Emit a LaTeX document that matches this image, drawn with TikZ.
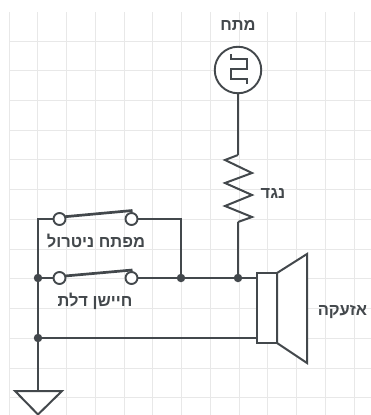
\documentclass[tikz,border=0pt]{standalone}
\usepackage{fontspec}
\TeXXeTstate=1
\newfontfamily\hebfont[Script=Hebrew]{Liberation Sans}
\definecolor{wire}{HTML}{43484C}
\definecolor{gridc}{HTML}{E8E8E8}
\tikzset{
  wireline/.style={draw=wire,line width=2pt,line join=miter},
  thinline/.style={draw=wire,line width=1.4pt},
  gridline/.style={draw=gridc,line width=0.9pt},
  terminal/.style={circle,draw=wire,line width=1.9pt,fill=white,inner sep=0pt,minimum size=12pt},
  junction/.style={circle,fill=wire,inner sep=0pt,minimum size=8.5pt},
  lever/.style={draw=wire,line width=2.7pt},
  lab/.style={text=wire,inner sep=0pt,font=\hebfont\bfseries\fontsize{16.5}{18}\selectfont}
}
\begin{document}
\begin{tikzpicture}[x=1pt,y=-1pt]
\useasboundingbox (0,0) rectangle (371,415);
\fill[white] (0,0) rectangle (371,415);
% grid
\foreach \gx in {9,37.8,66.5,95.3,124,152.8,181.5,210.2,239,267.7,296.5,325.2,354}
  \draw[gridline] (\gx,12) -- (\gx,415);
\foreach \gy in {41,70.5,100,130,159.5,189,219,249,278.5,308,338,368,397.5}
  \draw[gridline] (9,\gy) -- (371,\gy);
% nodes
\node[circle,draw=wire,line width=1.9pt,fill=white,minimum size=46.5pt,inner sep=0pt] (src) at (238,70) {};
\node[terminal] (s1a) at (59.5,219) {};
\node[terminal] (s1b) at (131.5,219) {};
\node[terminal] (s2a) at (59.5,278) {};
\node[terminal] (s2b) at (131.5,278) {};
\node[junction] (jl1) at (38,278) {};
\node[junction] (jl2) at (38,338) {};
\node[junction] (jr) at (181,278) {};
\node[junction] (jm) at (238,278) {};
\coordinate (tl) at (38,219);
\coordinate (tr) at (181,219);
\coordinate (gnd) at (38,391);
\coordinate (spkA) at (257,278);
\coordinate (spkB) at (257,338);
\coordinate (resT) at (238,155);
\coordinate (resB) at (238,222);
\coordinate (l1a) at (65,216.7);
\coordinate (l1b) at (132.5,210.5);
\coordinate (l2a) at (65,276);
\coordinate (l2b) at (132.5,270);
% wires
\draw[wireline] (s1a) -- (tl) -- (jl1) -- (jl2) -- (gnd);
\draw[wireline] (s1b) -- (tr) -- (jr);
\draw[wireline] (jl1) -- (s2a);
\draw[wireline] (s2b) -- (jr) -- (jm) -- (spkA);
\draw[wireline] (jl2) -- (spkB);
\draw[wireline] (src) -- (resT);
\draw[wireline] (resT) -- (225,160) -- (252,173) -- (225,183) -- (252,195) -- (225,206) -- (252,217) -- (resB);
\draw[wireline] (resB) -- (jm);
% switch levers
\draw[lever] (l1a) -- (l1b);
\draw[lever] (l2a) -- (l2b);
% pulse symbol
\draw[thinline] (231,54) -- (231,59) -- (247,59) -- (247,69) -- (231,69) -- (231,79) -- (247,79) -- (247,84);
% speaker
\draw[wireline,fill=white] (257,273) rectangle (277,343);
\draw[wireline,fill=white,line join=miter] (277,273) -- (307,254) -- (307,363) -- (277,343) -- cycle;
% ground
\draw[wireline,fill=white] (15,391) -- (62,391) -- (38,414.5) -- cycle;
% labels
\node[lab] (t1) at (238,25) {\beginR מתח\endR};
\node[lab] (t2) at (273,193) {\beginR נגד\endR};
\node[lab] (t3) at (342.5,312) {\beginR אזעקה\endR};
\node[lab] (t4) at (96,241) {\beginR מפתח ניטרול\endR};
\node[lab] (t5) at (95,301) {\beginR חיישן דלת\endR};
\end{tikzpicture}
\end{document}
